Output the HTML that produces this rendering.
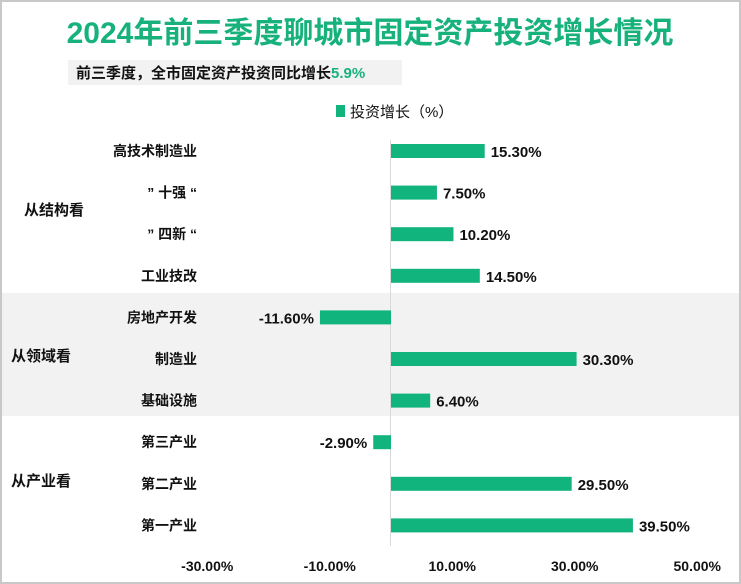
<!DOCTYPE html>
<html><head><meta charset="utf-8"><style>
body{margin:0;width:741px;height:584px;overflow:hidden;background:#fff;font-family:"Liberation Sans","Noto Sans CJK SC",sans-serif}
#c{position:absolute;left:0;top:0;width:737px;height:580px;border:2px solid #c8c8c8;}
</style></head><body>
<div id="c"></div>
<svg id="s" width="741" height="584" style="position:absolute;left:0;top:0">
<rect x="2" y="293" width="737" height="123" fill="#f2f2f2"/>
<text x="370" y="43" text-anchor="middle" font-size="30" font-weight="bold" fill="#17b27c">2024年前三季度聊城市固定资产投资增长情况</text>
<rect x="68" y="60" width="334" height="25" fill="#f2f2f2"/>
<text x="76" y="78" font-size="15" font-weight="bold" fill="#111">前三季度，全市固定资产投资同比增长<tspan fill="#17b27c">5.9%</tspan></text>
<rect x="336" y="105" width="9" height="12" fill="#12b47e"/>
<text x="350" y="117" font-size="15" fill="#111">投资增长（%）</text>
<line x1="390.5" y1="140" x2="390.5" y2="546" stroke="#d9d9d9"/>
<g id="bars"></g>
<text x="24" y="215" font-size="15" font-weight="bold" fill="#111">从结构看</text>
<text x="11" y="361" font-size="15" font-weight="bold" fill="#111">从领域看</text>
<text x="11" y="486" font-size="15" font-weight="bold" fill="#111">从产业看</text>
</svg>
<script>
const categories=["高技术制造业","” 十强 “","” 四新 “","工业技改","房地产开发","制造业","基础设施","第三产业","第二产业","第一产业"];
const values=[15.3,7.5,10.2,14.5,-11.6,30.3,6.4,-2.9,29.5,39.5];
const ticks=[-30,-10,10,30,50];
const tickLabels=["-30.00%","-10.00%","10.00%","30.00%","50.00%"];
const ns="http://www.w3.org/2000/svg";
const g=document.getElementById('bars');
const x=v=>391+v*6.125;
const y=i=>151+i*41.6;
function mk(t,a){const e=document.createElementNS(ns,t);for(const k in a)e.setAttribute(k,a[k]);g.appendChild(e);return e;}
categories.forEach((c,i)=>{
  const v=values[i],x0=Math.min(x(0),x(v)),w=Math.abs(x(v)-x(0));
  const r=mk('rect',{x:x0,y:y(i)-7,width:w,height:14,fill:'#12b47e'});
  
  
  const l=mk('text',{x:197,y:y(i)+5,'text-anchor':'end','font-size':14,'font-weight':'bold',fill:'#111'});
  l.textContent=c;
  
  
  const vl=mk('text',{x:v>=0?x(v)+6:x(v)-6,y:y(i)+6,'text-anchor':v>=0?'start':'end','font-size':15,'font-weight':'bold',fill:'#111'});
  vl.textContent=v.toFixed(2)+'%';
  
  
});
ticks.forEach((t,i)=>{
  const e=mk('text',{x:x(t),y:571,'text-anchor':'middle','font-size':14,'font-weight':'bold',fill:'#111'});
  e.textContent=tickLabels[i];
  
  
});
</script>
</body></html>
